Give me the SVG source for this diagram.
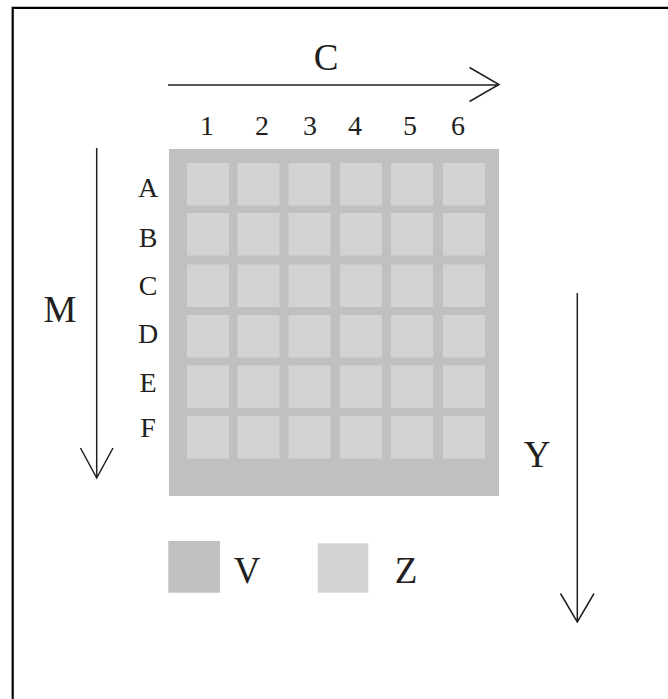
<svg xmlns="http://www.w3.org/2000/svg" width="668" height="699" viewBox="0 0 668 699">
<style>
.t{font-family:"Liberation Serif","Times New Roman",serif;fill:#231f20;text-anchor:middle}
.big{font-size:37px}
.mid{font-size:28px}
.ln{stroke:#231f20;stroke-width:1.5;fill:none}
.outer{fill:#bfc0c2}
.cell{fill:#d2d3d5}
</style>
<rect width="668" height="699" fill="#fff"/>
<path d="M12.7 699 V7.8 H668" fill="none" stroke="#000" stroke-width="2.2"/>
<g id="grid">
<rect class="outer" x="169" y="149" width="330" height="347"/>
<g id="cells">
<rect class="cell" x="187" y="163" width="42" height="42.5"/><rect class="cell" x="237.5" y="163" width="42" height="42.5"/><rect class="cell" x="288.5" y="163" width="42" height="42.5"/><rect class="cell" x="340" y="163" width="42" height="42.5"/><rect class="cell" x="391" y="163" width="42" height="42.5"/><rect class="cell" x="443" y="163" width="42" height="42.5"/>
<rect class="cell" x="187" y="213" width="42" height="42.5"/><rect class="cell" x="237.5" y="213" width="42" height="42.5"/><rect class="cell" x="288.5" y="213" width="42" height="42.5"/><rect class="cell" x="340" y="213" width="42" height="42.5"/><rect class="cell" x="391" y="213" width="42" height="42.5"/><rect class="cell" x="443" y="213" width="42" height="42.5"/>
<rect class="cell" x="187" y="264.5" width="42" height="42.5"/><rect class="cell" x="237.5" y="264.5" width="42" height="42.5"/><rect class="cell" x="288.5" y="264.5" width="42" height="42.5"/><rect class="cell" x="340" y="264.5" width="42" height="42.5"/><rect class="cell" x="391" y="264.5" width="42" height="42.5"/><rect class="cell" x="443" y="264.5" width="42" height="42.5"/>
<rect class="cell" x="187" y="315" width="42" height="42.5"/><rect class="cell" x="237.5" y="315" width="42" height="42.5"/><rect class="cell" x="288.5" y="315" width="42" height="42.5"/><rect class="cell" x="340" y="315" width="42" height="42.5"/><rect class="cell" x="391" y="315" width="42" height="42.5"/><rect class="cell" x="443" y="315" width="42" height="42.5"/>
<rect class="cell" x="187" y="365.5" width="42" height="42.5"/><rect class="cell" x="237.5" y="365.5" width="42" height="42.5"/><rect class="cell" x="288.5" y="365.5" width="42" height="42.5"/><rect class="cell" x="340" y="365.5" width="42" height="42.5"/><rect class="cell" x="391" y="365.5" width="42" height="42.5"/><rect class="cell" x="443" y="365.5" width="42" height="42.5"/>
<rect class="cell" x="187" y="416" width="42" height="42.5"/><rect class="cell" x="237.5" y="416" width="42" height="42.5"/><rect class="cell" x="288.5" y="416" width="42" height="42.5"/><rect class="cell" x="340" y="416" width="42" height="42.5"/><rect class="cell" x="391" y="416" width="42" height="42.5"/><rect class="cell" x="443" y="416" width="42" height="42.5"/>
</g>
</g>
<g id="col-labels" class="t mid">
<text x="207" y="135">1</text><text x="262" y="135">2</text><text x="310" y="135">3</text><text x="355" y="135">4</text><text x="410" y="135">5</text><text x="458" y="135">6</text>
</g>
<g id="row-labels" class="t mid">
<text x="148" y="197">A</text><text x="148" y="247">B</text><text x="148" y="295">C</text><text x="148" y="343">D</text><text x="148" y="392">E</text><text x="148" y="437">F</text>
</g>
<g id="connectors">
<path class="ln" d="M168 85 H499 M469.5 67.5 L499 84.5 L469.5 101.5"/>
<path class="ln" d="M96.7 148 V478 M80.5 448 L96.7 478 L113 448"/>
<path class="ln" d="M577.3 293 V622 M560.5 593.5 L577.3 622 L594 593.5"/>
</g>
<g id="axis-labels" class="t big">
<text x="326" y="70">C</text>
<text x="60" y="322">M</text>
<text x="537" y="467">Y</text>
</g>
<g id="legend-v">
<rect class="outer" x="168.3" y="541" width="51.7" height="51.7"/>
<text class="t big" x="247" y="583">V</text>
</g>
<g id="legend-z">
<rect class="cell" x="317.7" y="543.3" width="50.6" height="49.4"/>
<text class="t big" x="406" y="583">Z</text>
</g>
</svg>
